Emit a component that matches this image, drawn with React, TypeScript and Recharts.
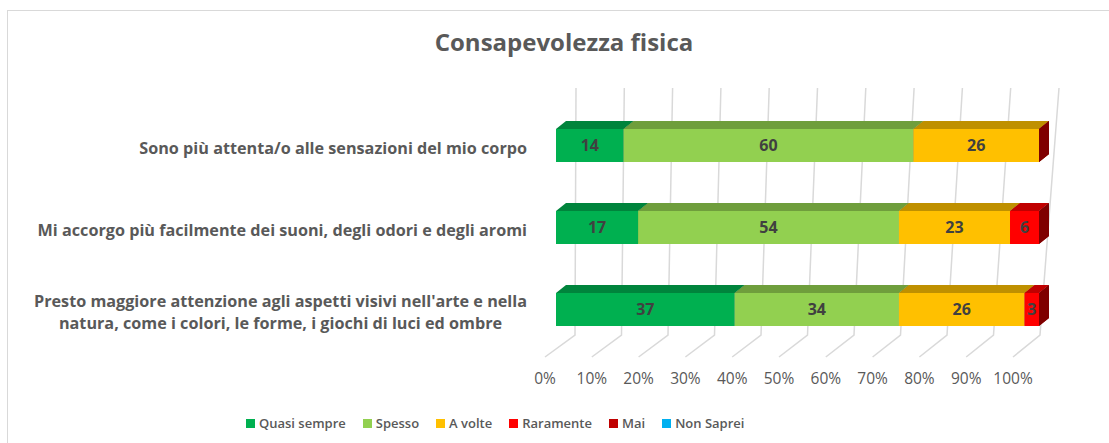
import React from 'react';
import { Bar, BarChart, CartesianGrid, LabelList, XAxis, YAxis } from 'recharts';

const CATEGORIES = [
  'Sono più attenta/o alle sensazioni del mio corpo',
  'Mi accorgo più facilmente dei suoni, degli odori e degli aromi',
  "Presto maggiore attenzione agli aspetti visivi nell'arte e nella natura, come i colori, le forme, i giochi di luci ed ombre",
];
const QUASI_SEMPRE = [14, 17, 37];
const SPESSO = [60, 54, 34];
const A_VOLTE = [26, 23, 26];
const RARAMENTE = [0, 6, 3];
const MAI = [0, 0, 0];
const NON_SAPREI = [0, 0, 0];
const X_TICKS = [0, 10, 20, 30, 40, 50, 60, 70, 80, 90, 100];

const FONT = '"Open Sans", Lato, sans-serif';
const W = 1109;
const H = 443;
const PLOT_LEFT = 556;
const PLOT_RIGHT = 1039;
const PLOT_W = PLOT_RIGHT - PLOT_LEFT;
const DX = 10;
const DY = 8;

const SERIES = [
  { key: 'quasi', name: 'Quasi sempre', values: QUASI_SEMPRE, front: '#00B050', top: '#00843C', side: '#006B30' },
  { key: 'spesso', name: 'Spesso', values: SPESSO, front: '#92D050', top: '#6F9E3C', side: '#587D30' },
  { key: 'avolte', name: 'A volte', values: A_VOLTE, front: '#FFC000', top: '#BF9000', side: '#997300' },
  { key: 'raramente', name: 'Raramente', values: RARAMENTE, front: '#FF0000', top: '#C00000', side: '#990000' },
  { key: 'mai', name: 'Mai', values: MAI, front: '#C00000', top: '#900000', side: '#7F0000' },
  { key: 'nonsaprei', name: 'Non Saprei', values: NON_SAPREI, front: '#00B0F0', top: '#0084B4', side: '#006A90', hideEmpty: true },
];

const data = CATEGORIES.map((name, i) => {
  const row: Record<string, string | number> = { name };
  SERIES.forEach((s) => {
    row[s.key] = s.values[i];
  });
  return row;
});

let measureCtx: CanvasRenderingContext2D | null = null;
function textWidth(text: string, font: string) {
  if (!measureCtx) measureCtx = document.createElement('canvas').getContext('2d');
  if (!measureCtx) return text.length * 8;
  measureCtx.font = font;
  return measureCtx.measureText(text).width;
}

function wrap(text: string, maxChars: number) {
  const words = text.split(' ');
  const lines: string[] = [];
  let cur = '';
  for (const w of words) {
    const next = cur ? `${cur} ${w}` : w;
    if (next.length > maxChars && cur) {
      lines.push(cur);
      cur = w;
    } else {
      cur = next;
    }
  }
  if (cur) lines.push(cur);
  return lines;
}

const makeShape = (s: (typeof SERIES)[number]) => (props: any) => {
  const { x, y, width, height } = props;
  if (width == null || (width <= 0 && s.hideEmpty)) return <g />;
  const w = Math.max(0, width);
  return (
    <g>
      {w > 0 && <rect x={x} y={y} width={w} height={height} fill={s.front} />}
      {w > 0 && (
        <polygon
          points={`${x},${y} ${x + w},${y} ${x + w + DX},${y - DY} ${x + DX},${y - DY}`}
          fill={s.top}
        />
      )}
      <polygon
        points={`${x + w},${y} ${x + w + DX},${y - DY} ${x + w + DX},${y + height - DY} ${x + w},${y + height}`}
        fill={s.side}
      />
    </g>
  );
};

const frontX = (x: number) => {
  const t = (x - PLOT_LEFT) / PLOT_W;
  return PLOT_LEFT - 11 + t * (PLOT_W - 15);
};

const renderGridLine = (p: any) => {
  const { x1, y1, y2, index } = p;
  const t = (x1 - PLOT_LEFT) / PLOT_W;
  const bendX = PLOT_LEFT + 19 + t * (PLOT_W - 18);
  return (
    <path
      key={`grid-${index}`}
      d={`M${x1 + 20},${y1 - 16} L${bendX},${y2 - 15} L${frontX(x1)},${y2 + 7}`}
      stroke="#D9D9D9"
      strokeWidth={1.5}
      fill="none"
    />
  );
};

const XTick = (props: any) => {
  const { x, y, payload } = props;
  return (
    <text x={frontX(x)} y={y + 34} textAnchor="middle" fontFamily={FONT} fontSize={15.5} fill="#595959">
      {`${payload.value}%`}
    </text>
  );
};

const Y_FONT_SIZE = 16.2;
const YTick = (props: any) => {
  const { x, y, payload } = props;
  const lines = wrap(payload.value, 64);
  const font = `bold ${Y_FONT_SIZE}px "Open Sans"`;
  const maxW = Math.max(...lines.map((l) => textWidth(l, font)));
  const cx = x - maxW / 2;
  const lineH = 22;
  const startY = y + 9 - ((lines.length - 1) * lineH) / 2;
  return (
    <text
      x={cx}
      y={startY}
      textAnchor="middle"
      fontFamily={FONT}
      fontWeight="bold"
      fontSize={Y_FONT_SIZE}
      fill="#595959"
    >
      {lines.map((l, i) => (
        <tspan key={i} x={cx} y={startY + i * lineH}>
          {l}
        </tspan>
      ))}
    </text>
  );
};

export default function App() {
  return (
    <div style={{ position: 'absolute', left: 0, top: 0, width: W, height: H, background: '#fff', overflow: 'hidden' }}>
      <div
        style={{
          position: 'absolute',
          left: 7,
          top: 10,
          width: 1110,
          height: 445,
          border: '1.5px solid #D9D9D9',
          boxSizing: 'border-box',
        }}
      />
      <div
        style={{
          position: 'absolute',
          left: 0,
          top: 25,
          width: 1128,
          textAlign: 'center',
          fontFamily: FONT,
          fontWeight: 'bold',
          fontSize: 24,
          color: '#595959',
        }}
      >
        Consapevolezza fisica
      </div>
      <div style={{ position: 'absolute', left: 0, top: 0 }}>
        <BarChart
          width={W}
          height={H}
          data={data}
          layout="vertical"
          margin={{ top: 104, right: W - PLOT_RIGHT, bottom: 63, left: 0 }}
          barSize={33}
        >
          <CartesianGrid horizontal={false} vertical={renderGridLine} stroke="#D9D9D9" />
          <XAxis
            type="number"
            domain={[0, 100]}
            ticks={X_TICKS}
            interval={0}
            height={30}
            axisLine={false}
            tickLine={false}
            tickSize={0}
            tickMargin={0}
            tick={XTick}
          />
          <YAxis
            type="category"
            dataKey="name"
            width={PLOT_LEFT}
            axisLine={false}
            tickLine={false}
            tickSize={0}
            tickMargin={29}
            interval={0}
            tick={YTick}
          />
          {SERIES.map((s) => (
            <Bar
              key={s.key}
              dataKey={s.key}
              name={s.name}
              stackId="a"
              fill={s.front}
              shape={makeShape(s)}
              isAnimationActive={false}
            >
              <LabelList
                dataKey={s.key}
                position="center"
                formatter={(v: any) => (v ? v : '')}
                fill="#404040"
                fontFamily={FONT}
                fontWeight="bold"
                fontSize={16}
              />
            </Bar>
          ))}
        </BarChart>
      </div>
      <div
        style={{
          position: 'absolute',
          left: 246,
          top: 414,
          display: 'flex',
          alignItems: 'center',
          fontFamily: FONT,
          fontWeight: 600,
          fontSize: 13,
          color: '#595959',
          whiteSpace: 'nowrap',
        }}
      >
        {SERIES.map((s) => (
          <span key={s.key} style={{ display: 'inline-flex', alignItems: 'center', marginRight: 17 }}>
            <span style={{ width: 9, height: 9, background: s.front, marginRight: 4, display: 'inline-block' }} />
            {s.name}
          </span>
        ))}
      </div>
    </div>
  );
}
